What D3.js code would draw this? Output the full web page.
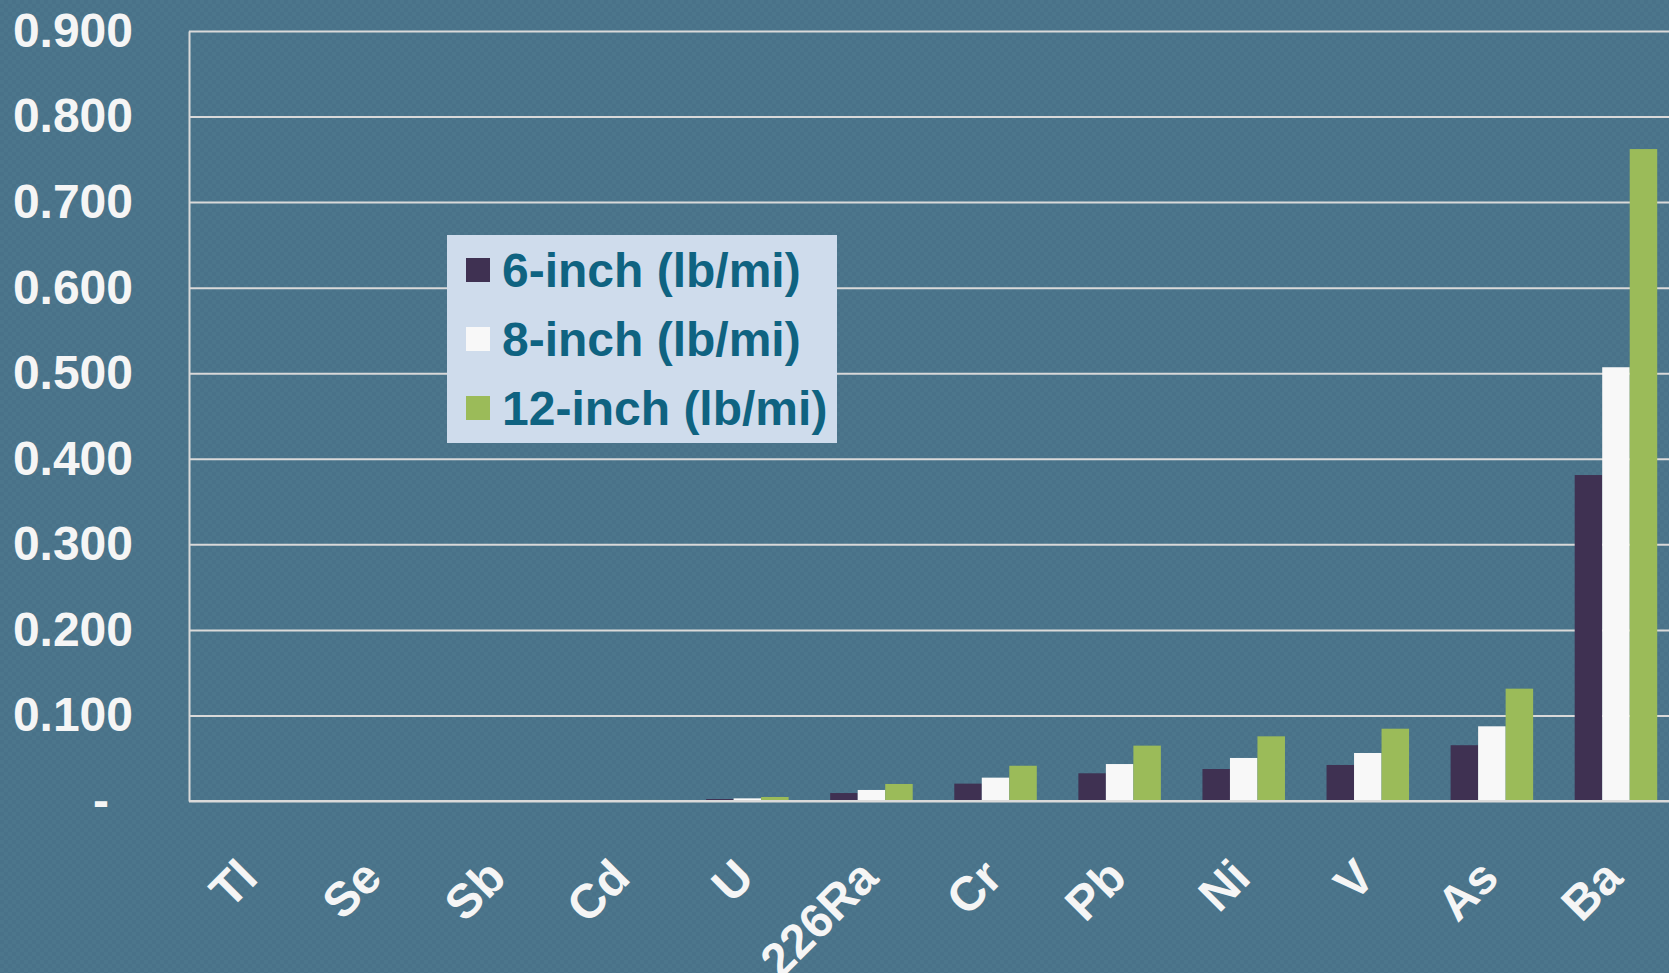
<!DOCTYPE html>
<html>
<head>
<meta charset="utf-8">
<script src="https://cdn.jsdelivr.net/npm/d3@7/dist/d3.min.js"></script>
<style>
  html, body { margin: 0; padding: 0; background: #497289; overflow: hidden; }
  svg { display: block; }
  text { font-family: "Liberation Sans", Arial, sans-serif; font-weight: bold; }
</style>
</head>
<body>
<svg id="chart" width="1669" height="973"></svg>
<script>
// Elements, ordered by increasing load
const categories = ["Tl", "Se", "Sb", "Cd", "U", "226Ra", "Cr", "Pb", "Ni", "V", "As", "Ba"];

// Load per mile for each road-base thickness (lb/mi)
const seriesNames = ["6-inch (lb/mi)", "8-inch (lb/mi)", "12-inch (lb/mi)"];
const sixInch    = [0.0001, 0.0001, 0.0002, 0.0003, 0.0023, 0.0093, 0.0203, 0.0324, 0.0374, 0.0421, 0.0652, 0.381];
const eightInch  = [0.0001, 0.0002, 0.0003, 0.0006, 0.0031, 0.0129, 0.0273, 0.0432, 0.0503, 0.0561, 0.0873, 0.507];
const twelveInch = [0.0002, 0.0003, 0.0004, 0.0012, 0.0047, 0.0199, 0.0412, 0.0647, 0.0756, 0.0845, 0.1313, 0.762];

const yTicks = [0, 0.1, 0.2, 0.3, 0.4, 0.5, 0.6, 0.7, 0.8, 0.9];
const seriesColors = ["#3f3152", "#f8f8f8", "#9bbb59"];

const seriesValues = [sixInch, eightInch, twelveInch];
const rows = categories.map((c, i) => ({
  cat: c,
  vals: seriesNames.map((s, k) => ({ key: s, value: seriesValues[k][i] }))
}));

const svg = d3.select("#chart");
const W = 1669, H = 973;
const plot = { left: 189, right: 1678, top: 31, bottom: 801 };

// textured slide background
const defs = svg.append("defs");
const pat = defs.append("pattern")
  .attr("id", "tex").attr("width", 8).attr("height", 8)
  .attr("patternUnits", "userSpaceOnUse");
pat.append("rect").attr("width", 8).attr("height", 8).attr("fill", "#497289");
pat.append("rect").attr("width", 4).attr("height", 4).attr("fill", "#4c768c");
pat.append("rect").attr("x", 4).attr("y", 4).attr("width", 4).attr("height", 4).attr("fill", "#4c768c");
svg.append("rect").attr("width", W).attr("height", H).attr("fill", "url(#tex)");

const y = d3.scaleLinear().domain([0, 0.9]).range([plot.bottom, plot.top]);
const x0 = d3.scaleBand().domain(categories)
  .range([plot.left, plot.right])
  .paddingInner(0.335).paddingOuter(0.1675);
const x1 = d3.scaleBand().domain(seriesNames).range([0, x0.bandwidth()]).padding(0);
const color = d3.scaleOrdinal().domain(seriesNames).range(seriesColors);

// value axis with gridlines
const yAxis = svg.append("g")
  .attr("transform", `translate(${plot.left},0)`)
  .call(d3.axisLeft(y)
    .tickValues(yTicks)
    .tickSize(-(plot.right - plot.left))
    .tickSizeOuter(0)
    .tickPadding(56)
    .tickFormat(d => d === 0 ? "-" : d3.format(".3f")(d)));
yAxis.select(".domain").attr("stroke", "#d9d9d9").attr("stroke-width", 2);
yAxis.selectAll(".tick line").attr("stroke", "#d9d9d9").attr("stroke-width", 2);
yAxis.selectAll(".tick text")
  .attr("fill", "#f5f5f5")
  .style("font-size", "48px")
  .attr("dx", d => d === 0 ? -24 : 0);

// grouped bars
const groups = svg.append("g").selectAll("g")
  .data(rows).join("g")
  .attr("transform", d => `translate(${x0(d.cat)},0)`);
groups.selectAll("rect")
  .data(d => d.vals).join("rect")
  .attr("x", d => x1(d.key))
  .attr("width", x1.bandwidth())
  .attr("y", d => y(d.value))
  .attr("height", d => y(0) - y(d.value))
  .attr("fill", d => color(d.key));

// baseline on top of bars
svg.append("line")
  .attr("x1", plot.left).attr("x2", plot.right)
  .attr("y1", y(0)).attr("y2", y(0))
  .attr("stroke", "#d9d9d9").attr("stroke-width", 2);

// category labels, slanted
const xAxis = svg.append("g").attr("transform", `translate(0,${plot.bottom})`)
  .call(d3.axisBottom(x0).tickSize(0).tickPadding(0));
xAxis.select(".domain").remove();
xAxis.selectAll(".tick text")
  .attr("fill", "#f5f5f5")
  .style("font-size", "48px")
  .attr("text-anchor", "end")
  .attr("dy", null).attr("y", null)
  .attr("transform", "translate(9,79) rotate(-45)");

// legend
const lg = svg.append("g").attr("transform", "translate(447,235)");
lg.append("rect").attr("width", 390).attr("height", 208).attr("fill", "#cfdcec");
seriesNames.forEach((s, i) => {
  const row = lg.append("g").attr("transform", `translate(19,${23 + i * 69})`);
  row.append("rect").attr("width", 24).attr("height", 24).attr("fill", color(s));
  row.append("text").attr("x", 36).attr("y", 12).attr("dy", "0.35em")
    .attr("fill", "#0f6381").style("font-size", "48px").text(s);
});
</script>
</body>
</html>
